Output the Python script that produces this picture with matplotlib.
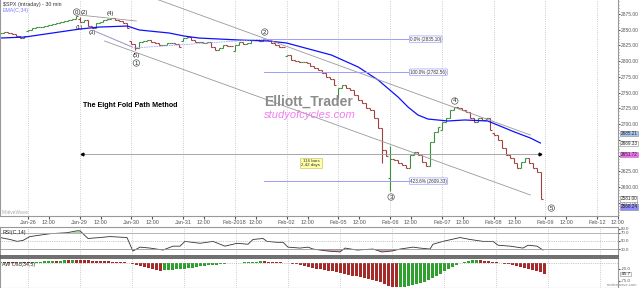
import numpy as np
import matplotlib.pyplot as plt

plt.rcParams['font.family'] = ['Liberation Sans', 'DejaVu Sans']

# 30 min bars of $SPX, bar 0 = first bar of Jan-26, 13 bars per session
first_bar = -7
closes = [
    # Jan-25 (last bars)
    2845.0, 2846.4, 2844.8, 2843.2, 2840.0, 2836.8, 2840.0,
    # Jan-26
    2849.6, 2852.7, 2854.3, 2854.3, 2855.9, 2857.5, 2859.1, 2860.7, 2862.3, 2863.9, 2865.5, 2867.0, 2872.0,
    # Jan-29
    2862.3, 2866.0, 2855.9, 2852.7, 2860.7, 2862.3, 2865.5, 2867.0, 2868.6, 2865.5, 2863.9, 2860.7, 2853.5,
    # Jan-30
    2827.3, 2821.0, 2830.5, 2832.1, 2833.7, 2830.5, 2828.9, 2825.7, 2825.7, 2828.9, 2828.9, 2827.3, 2822.5,
    # Jan-31
    2836.8, 2838.4, 2833.7, 2830.5, 2830.5, 2828.9, 2830.5, 2822.5, 2817.8, 2820.9, 2825.7, 2824.1, 2823.8,
    # Feb-01
    2825.7, 2830.5, 2827.3, 2828.9, 2833.7, 2833.7, 2832.1, 2835.2, 2833.7, 2828.9, 2825.7, 2822.5, 2822.0,
    # Feb-02
    2809.8, 2801.9, 2800.3, 2798.7, 2798.7, 2797.1, 2792.3, 2789.1, 2786.0, 2781.2, 2774.8, 2771.7, 2762.1,
    # Feb-05
    2757.0, 2762.0, 2757.3, 2754.2, 2746.2, 2738.3, 2733.5, 2725.5, 2722.4, 2709.6, 2693.7, 2658.8, 2648.9,
    # Feb-06
    2645.0, 2642.9, 2638.1, 2634.9, 2630.1, 2650.8, 2655.6, 2650.8, 2639.7, 2633.3, 2671.5, 2687.4, 2695.1,
    # Feb-07
    2703.3, 2709.6, 2722.4, 2727.1, 2725.5, 2722.4, 2719.2, 2709.6, 2703.3, 2709.6, 2706.5, 2709.6, 2690.6,
    # Feb-08
    2682.6, 2674.7, 2661.9, 2650.8, 2646.0, 2638.1, 2630.1, 2639.7, 2646.0, 2638.1, 2630.1, 2623.8, 2581.0,
]
open_bars = [-7, 0, 13, 26, 39, 52, 65, 78, 91, 104, 117]
open_vals = [2843.2, 2847.5, 2867.2, 2832.7, 2832.4, 2816.5, 2808.9, 2741.1, 2614.8, 2691.0, 2685.0]
high_bars = [13, 59, 91, 107]
high_vals = [2870.6, 2836.0, 2665.0, 2727.7]
low_bars = [27, 89, 91, 129]
low_vals = [2818.3, 2638.2, 2593.1, 2580.6]

# EMA(C,34)
ema_x = [-7, -0.75, 13, 18, 25, 28, 35.5, 39.25, 43, 53, 60.5, 65, 76.25, 83, 88, 93,
         95.5, 98, 100.5, 105.5, 109.75, 115.5, 118, 122.25, 126.25, 128.75]
ema_y = [2836.8, 2838.4, 2851.1, 2854.3, 2855.9, 2849.6, 2844.8, 2840.0, 2836.8, 2833.7,
         2832.1, 2828.9, 2809.8, 2790.7, 2770.0, 2743.0, 2727.1, 2714.4, 2708.0, 2704.9,
         2706.5, 2704.9, 2698.5, 2687.4, 2677.8, 2669.9]

# RSI(C,14)
rsi_x = [-7, -4.5, -2.75, -1.25, 0.5, 5.5, 9.75, 12.25, 13, 15, 18, 20.5, 24.75, 26, 26.25,
         28, 30.5, 33.75, 36.25, 38, 39.25, 43, 46.25, 49.25, 52.25, 55, 56.25, 58.75, 59.75,
         62.25, 63.75, 65, 68, 70, 71.25, 74.75, 78, 79.25, 82.25, 86.25, 88.5, 91, 93, 96.25,
         98, 100.5, 101.25, 103.75, 108, 110.5, 113.75, 116.25, 117.5, 120.5, 123.75, 125,
         127.25, 128.75]
rsi_y = [58.2, 53.5, 48.8, 51.2, 60.6, 67.6, 70.0, 74.7, 74.7, 55.9, 58.2, 60.6, 58.2, 30.0,
         25.3, 34.7, 32.4, 27.6, 37.1, 37.1, 48.8, 44.1, 48.8, 37.1, 44.1, 41.8, 53.5, 55.9,
         48.8, 46.5, 46.5, 34.7, 32.4, 34.7, 30.0, 25.3, 22.9, 32.4, 27.6, 30.0, 22.9, 25.3,
         30.0, 34.7, 32.4, 30.0, 41.8, 48.8, 58.2, 53.5, 48.8, 48.8, 39.4, 37.1, 32.4, 39.4,
         37.1, 27.6]

# Awesome oscillator, one value per bar
ao = [
    2, 3, 3, 2, 2, 3, 3,
    2, 3, 4, 5, 6, 7, 8, 8, 9, 10, 10, 11, 11,
    11, 10, 10, 9, 8, 8, 7, 6, 5, 4, 3, 2, 1,
    -3, -8, -13, -18, -22, -26, -30, -33, -32, -30, -28, -26, -25,
    -24, -22, -20, -17, -14, -12, -10, -9, -8, -6, -4, -2, -1,
    0, 1, 2, 3, 4, 5, 6, 6, 5, 4, 3, 2, 1,
    -1, -4, -7, -10, -14, -17, -20, -24, -27, -30, -33, -36, -40,
    -43, -46, -50, -53, -57, -60, -64, -68, -72, -77, -82, -88, -95,
    -100, -101, -100, -99, -97, -94, -90, -84, -78, -70, -62, -54, -46,
    -36, -26, -16, -8, -1, 4, 8, 10, 11, 10, 8, 6, 4,
    2, 0, -3, -6, -10, -14, -18, -22, -26, -30, -35, -40, -45.7,
]

day_names = ['Jan-26', 'Jan-29', 'Jan-30', 'Jan-31', 'Feb-2018', 'Feb-02', 'Feb-05',
             'Feb-06', 'Feb-07', 'Feb-08', 'Feb-09', 'Feb-12']

# wave counts
wave_text = ['0', '(2)', '(1)', '(3)', '(4)', '(5)', '1', '2', '3', '4', '5']
wave_x = [12.25, 14.1, 13.0, 16.25, 20.75, 27.25, 27.25, 59.5, 91.25, 107.25, 131.5]
wave_y = [2878.2, 2878.2, 2854.3, 2846.4, 2876.6, 2809.8, 2797.1, 2846.4, 2584.0, 2736.7, 2566.4]
wave_circled = [True, False, False, False, False, False, True, True, True, True, True]

# fib levels
fib_text = ['0.0% (2835.10)', '100.0% (2782.56)', '423.6% (2609.33)']
fib_vals = [2835.10, 2782.56, 2609.33]

# value boxes on the price scale
box_vals = [2685.21, 2669.33, 2651.72, 2581.00, 2568.24]
box_colors = ['#a8c8f0', 'white', '#ff66ff', 'white', '#8c8cff']

# ---- build OHLC ----
c = np.array(closes)
bars = np.arange(first_bar, first_bar + len(c))
o = np.r_[c[0], c[:-1]]
for b, v in zip(open_bars, open_vals):
    o[b - first_bar] = v
h = np.maximum(o, c)
l = np.minimum(o, c)
for b, v in zip(high_bars, high_vals):
    h[b - first_bar] = max(h[b - first_bar], v)
for b, v in zip(low_bars, low_vals):
    l[b - first_bar] = min(l[b - first_bar], v)
up = c >= o

fig = plt.figure(figsize=(6.4, 2.88), dpi=100)
W = 618 / 640
ax = fig.add_axes([0, 1 - 216 / 288, W, 216 / 288])
ax_r = fig.add_axes([0, 1 - 256 / 288, W, 29 / 288])
ax_a = fig.add_axes([0, 0, W, 30 / 288])

xmin, xmax = -7, 147.5
day_pos = np.arange(len(day_names)) * 13
for a in (ax, ax_r, ax_a):
    a.set_xlim(xmin, xmax)
    for d in day_pos:
        a.axvline(d, color='#bbbbbb', ls=':', lw=0.6, zorder=0)
    a.yaxis.tick_right()
    a.tick_params(axis='y', labelsize=3.5, length=1.5, pad=0.5, colors='#555555')
    for s in a.spines.values():
        s.set_color('#999999')
        s.set_linewidth(0.8)

# ---- price panel ----
col = np.where(up, '#3d8f3d', '#a04040')
ax.vlines(bars, l, h, colors=col, lw=0.8)
ax.hlines(o, bars - 0.5, bars, colors=col, lw=0.8)
ax.hlines(c, bars, bars + 0.5, colors=col, lw=0.8)
ax.plot(ema_x, ema_y, color='#1010ff', lw=0.9)

ax.set_ylim(2553.8, 2897.3)
yt = np.arange(2575, 2876, 25)
ax.set_yticks(yt)
# 2650 and 2675 sit under the value boxes
ax.set_yticklabels(['' if v in (2650, 2675) else '%.2f' % v for v in yt])
ax.set_yticks(np.arange(2555, 2896, 5), minor=True)
ax.tick_params(axis='y', which='minor', length=1, colors='#777777')
ticks = np.sort(np.r_[day_pos, day_pos + 5.25])
labels = []
for n in day_names:
    labels += [n, '12:00']
ax.set_xticks(ticks)
ax.set_xticklabels(labels)
ax.tick_params(axis='x', labelsize=4, length=2, pad=1, colors='#555555')
ax.spines['top'].set_visible(False)

# trend lines
ax.plot([30, 126.25], [2904.0, 2682.6], color='#999999', lw=0.6)
ax.plot([19.25, 126.25], [2832.1, 2587.2], color='#999999', lw=0.6)
ax.plot([13, 27.25], [2873.4, 2863.9], color='#999999', lw=0.6)
ax.plot([17.25, 26.25], [2846.4, 2822.5], color='#999999', lw=0.6)
ax.plot([16.25, 26.75, 59.5], [2849.6, 2821.0, 2835.2], color='#a0a0ff', lw=0.6, ls=(0, (2, 1)))

# fib levels
for t, v in zip(fib_text, fib_vals):
    ax.plot([59.25, 96], [v, v], color='#9c9cff', lw=0.7)
    ax.text(96, v, t, fontsize=3.3, va='center', ha='left', color='#333333',
            bbox=dict(boxstyle='round,pad=0.15', fc='white', ec='#9c9cff', lw=0.5))

# time span line
ax.plot([13.5, 128.75], [2651.7, 2651.7], color='#999999', lw=0.6)
ax.plot([13.5], [2651.7], marker='<', ms=2, color='black')
ax.plot([128.75], [2651.7], marker='>', ms=2, color='black')
ax.text(71.1, 2638, '116 bars\n2.42 days', fontsize=3.2, ha='center', va='center',
        color='#333333', linespacing=1.0,
        bbox=dict(boxstyle='square,pad=0.25', fc='#ffffa8', ec='#c8c870', lw=0.5))

for t, x, y, circ in zip(wave_text, wave_x, wave_y, wave_circled):
    bb = dict(boxstyle='circle,pad=0.12', fc='white', ec='#555555', lw=0.5) if circ else None
    ax.text(x, y, t, fontsize=4.3, ha='center', va='center', color='#222222', bbox=bb)

ax.text(59.25, 2735, 'Elliott_Trader', fontsize=10, fontweight='bold', color='#8c8c8c',
        ha='left', va='center')
ax.text(59.25, 2714.4, 'studyofcycles.com', fontsize=8, style='italic', color='#f07cf0',
        ha='left', va='center')
ax.text(13.75, 2730.3, 'The Eight Fold Path Method', fontsize=5.1, fontweight='bold',
        color='black', ha='left', va='center')

# right axis value boxes
tr = ax.get_yaxis_transform()
for v, fc in zip(box_vals, box_colors):
    ax.text(1.004, v, '%.2f' % v, transform=tr, fontsize=3.3, va='center', ha='left',
            color='#222222', clip_on=False,
            bbox=dict(boxstyle='square,pad=0.05', fc=fc, ec='#888888', lw=0.4))

fig.text(3 / 640, 1 - 2 / 288, '$SPX (intraday) - 30 min', fontsize=3.8, color='#333333', va='top')
fig.text(3 / 640, 1 - 8 / 288, 'EMA(C,34)', fontsize=3.8, color='#7b7bff', va='top')
fig.text(2 / 640, 1 - 213 / 288, 'MotiveWave', fontsize=3.5, color='#aaaaaa', va='center')

# ---- RSI panel ----
rx = np.array(rsi_x)
ry = np.array(rsi_y)
ax_r.plot(rx, ry, color='#333333', lw=0.6)
ax_r.fill_between(rx, ry, 30, where=ry < 30, interpolate=True, color='#d9a8a8', lw=0)
ax_r.fill_between(rx, ry, 70, where=ry > 70, interpolate=True, color='#a8d8a8', lw=0)
ax_r.axhline(70, color='#aaaaaa', lw=0.6)
ax_r.axhline(30, color='#999999', lw=0.6)
ax_r.axhline(50, color='#999999', lw=0.5, ls=':')
ax_r.set_ylim(13, 84)
ax_r.set_yticks([30, 50, 70, 80])
ax_r.set_yticklabels(['30.0', '50.0', '70.0', '80.0'])
ax_r.tick_params(axis='y', labelsize=3.2)
ax_r.set_xticks([])
ax_r.spines['bottom'].set_color('#555555')
ax_r.spines['bottom'].set_linewidth(1.2)
ax_r.text(0.004, 0.88, 'RSI(C,14)', transform=ax_r.transAxes, fontsize=3.8, color='#222222', va='top')

# ---- AO panel ----
aov = np.array(ao)
ao_col = np.where(np.r_[aov[0], np.diff(aov)] > 0, '#2ea02e', '#a52a2a')
ax_a.bar(bars, aov, width=0.75, color=ao_col, lw=0)
ax_a.axhline(0, color='#999999', lw=0.5, ls=':')
ax_a.set_ylim(-105, 20)
ax_a.set_yticks([-75, -25])
ax_a.set_yticklabels(['-75.0', '-25.0'])
ax_a.tick_params(axis='y', labelsize=3.2)
ax_a.set_xticks([])
ax_a.spines['top'].set_color('#555555')
ax_a.spines['top'].set_linewidth(1.2)
ax_a.text(1.004, -45.7, '-45.7', transform=ax_a.get_yaxis_transform(), fontsize=3.2,
          va='center', ha='left', clip_on=False,
          bbox=dict(boxstyle='square,pad=0.05', fc='white', ec='#888888', lw=0.4))
ax_a.text(0.004, 0.88, 'AW Osc(34,5)', transform=ax_a.transAxes, fontsize=3.8, color='#222222', va='top')
fig.text(0.995, 0.005, 'motivewave.com', fontsize=3, color='#888888', ha='right', va='bottom')

fig.savefig('out.png', dpi=100)
